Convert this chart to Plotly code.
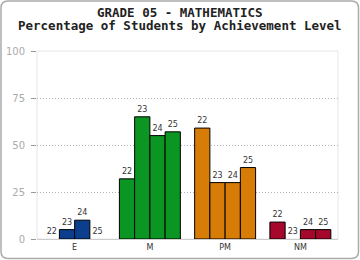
import plotly.graph_objects as go

categories = ["E", "M", "PM", "NM"]
years = ["22", "23", "24", "25"]
values = {
    "22": [0, 32, 59, 9],
    "23": [5, 65, 30, 0],
    "24": [10, 55, 30, 5],
    "25": [0, 57, 38, 5],
}
cat_colors = ["#0b3e8d", "#0b9623", "#d77c07", "#a5082a"]
title1 = "GRADE 05 - MATHEMATICS"
title2 = "Percentage of Students by Achievement Level"
yticks = [0, 25, 50, 75, 100]

W, H = 360, 260
L, R, T, B = 37, 22, 51, 21
PW, PH = W - L - R, H - T - B

def px(x):
    return (x - L) / PW

def py(y):
    return (H - B - y) / PH

fig = go.Figure()
for yr in years:
    vals = values[yr]
    fig.add_trace(go.Bar(
        x=categories, y=vals, name=yr,
        marker=dict(color=cat_colors,
                    line=dict(color="#000000", width=[1 if v > 0 else 0 for v in vals])),
        text=[yr] * len(categories), textposition="outside",
        textfont=dict(family="DejaVu Sans", size=8, color="#333333"),
        cliponaxis=False, showlegend=False,
    ))

# outer rounded border
x0, x1, y0, y1, r = 1, 358.5, 1, 258.5, 7
rx, ry = r / PW, r / PH
X0, X1, Y0, Y1 = px(x0), px(x1), py(y0), py(y1)
path = (f"M {X0+rx},{Y0} L {X1-rx},{Y0} Q {X1},{Y0} {X1},{Y0-ry} "
        f"L {X1},{Y1+ry} Q {X1},{Y1} {X1-rx},{Y1} L {X0+rx},{Y1} "
        f"Q {X0},{Y1} {X0},{Y1+ry} L {X0},{Y0-ry} Q {X0},{Y0} {X0+rx},{Y0} Z")
fig.add_shape(type="path", path=path, xref="paper", yref="paper",
              line=dict(color="#aaaaaa", width=1.5), layer="below")
fig.add_shape(type="rect", x0=0, x1=1, y0=0, y1=1, xref="paper", yref="paper",
              line=dict(color="#e6e6e6", width=1), layer="below")

for txt, yy in [(title1, 12.8), (title2, 26.0)]:
    fig.add_annotation(text=f"<b>{txt}</b>", x=px(180), xref="paper", y=py(yy), yref="paper",
                       xanchor="center", yanchor="middle", showarrow=False,
                       font=dict(family="DejaVu Sans Mono", size=12.5, color="#222222"))

fig.update_layout(
    template="none",
    width=W, height=H, margin=dict(l=L, r=R, t=T, b=B, pad=0, autoexpand=False),
    paper_bgcolor="white", plot_bgcolor="white",
    barmode="group", bargap=0.19, bargroupgap=0,
    xaxis=dict(automargin=False, showgrid=False, showline=True, linecolor="#cccccc", linewidth=1,
               ticks="", tickfont=dict(family="DejaVu Sans", size=8, color="#333333"),
               fixedrange=True),
    yaxis=dict(automargin=False, range=[0, 100], tickvals=yticks, showgrid=True, gridcolor="#b5b5b5",
               griddash="1px,2px", gridwidth=1, zeroline=False, showline=False,
               ticks="outside", ticklen=5, tickcolor="#999999", ticklabelstandoff=4,
               tickfont=dict(family="DejaVu Sans", size=10, color="#aaaaaa"),
               fixedrange=True),
)
fig.write_html("out.html")
